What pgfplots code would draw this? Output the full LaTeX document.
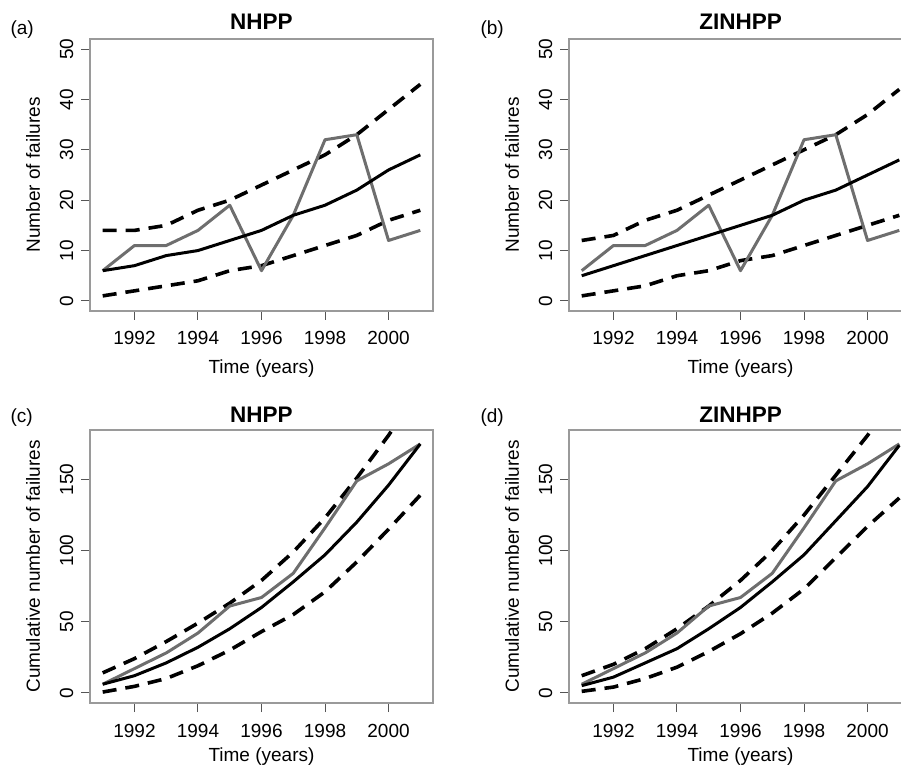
\documentclass[border=0pt]{standalone}
\usepackage{fontspec}
\setmainfont{Liberation Sans}
\usepackage{pgfplots}
\pgfplotsset{compat=1.18}

\definecolor{obsgray}{HTML}{6E6E6E}
\definecolor{boxgray}{HTML}{9A9A9A}
\definecolor{tickgray}{HTML}{555555}

\pgfplotsset{
  rplot/.style={
    scale only axis,
    width=343pt,
    xmin=1990.6, xmax=2001.4,
    axis line style={boxgray, line width=1.1pt},
    tick pos=left,
    tick align=outside,
    major tick length=9pt,
    every tick/.style={tickgray, line width=1pt},
    xtick={1992,1994,1996,1998,2000},
    xticklabels={1992,1994,1996,1998,2000},
    tick label style={font=\fontsize{19}{20}\selectfont},
    xticklabel style={anchor=base, yshift=-25pt},
    yticklabel style={rotate=90, anchor=base, yshift=8pt},
    label style={font=\fontsize{19}{20}\selectfont},
    title style={font=\bfseries\fontsize{22.5}{24}\selectfont, at={(0.5,1)}, anchor=base, yshift=3pt},
    xlabel={Time (years)},
  },
  fit/.style={black, line width=3pt, line join=round},
  band/.style={black, line width=3.6pt, dash pattern=on 14pt off 9pt},
  obs/.style={obsgray, line width=3pt, line join=round},
}

\begin{document}
\begin{tikzpicture}
\useasboundingbox (0pt,0pt) rectangle (901pt,768pt);

% (a)
\begin{axis}[rplot, at={(90pt,457pt)}, anchor=south west, height=272pt,
  ymin=-2, ymax=52, ytick={0,10,20,30,40,50}, yticklabels={0,10,20,30,40,50},
  title={NHPP}, ylabel={Number of failures},
  xlabel style={at={(axis description cs:0.5,-0.228)}, anchor=base},
  ylabel style={at={(axis description cs:-0.146,0.5)}, anchor=base}]
\addplot[band] coordinates {(1991,14)(1992,14)(1993,15)(1994,18)(1995,20)(1996,23)(1997,26)(1998,29)(1999,33)(2000,38)(2001,43)};
\addplot[band] coordinates {(1991,1)(1992,2)(1993,3)(1994,4)(1995,6)(1996,7)(1997,9)(1998,11)(1999,13)(2000,16)(2001,18)};
\addplot[obs] coordinates {(1991,6)(1992,11)(1993,11)(1994,14)(1995,19)(1996,6)(1997,17)(1998,32)(1999,33)(2000,12)(2001,14)};
\addplot[fit] coordinates {(1991,6)(1992,7)(1993,9)(1994,10)(1995,12)(1996,14)(1997,17)(1998,19)(1999,22)(2000,26)(2001,29)};
\end{axis}

% (b)
\begin{axis}[rplot, at={(569pt,457pt)}, anchor=south west, height=272pt,
  ymin=-2, ymax=52, ytick={0,10,20,30,40,50}, yticklabels={0,10,20,30,40,50},
  title={ZINHPP}, ylabel={Number of failures},
  xlabel style={at={(axis description cs:0.5,-0.228)}, anchor=base},
  ylabel style={at={(axis description cs:-0.146,0.5)}, anchor=base}]
\addplot[band] coordinates {(1991,12)(1992,13)(1993,16)(1994,18)(1995,21)(1996,24)(1997,27)(1998,30)(1999,33)(2000,37)(2001,42)};
\addplot[band] coordinates {(1991,1)(1992,2)(1993,3)(1994,5)(1995,6)(1996,8)(1997,9)(1998,11)(1999,13)(2000,15)(2001,17)};
\addplot[obs] coordinates {(1991,6)(1992,11)(1993,11)(1994,14)(1995,19)(1996,6)(1997,17)(1998,32)(1999,33)(2000,12)(2001,14)};
\addplot[fit] coordinates {(1991,5)(1992,7)(1993,9)(1994,11)(1995,13)(1996,15)(1997,17)(1998,20)(1999,22)(2000,25)(2001,28)};
\end{axis}

% (c)
\begin{axis}[rplot, at={(90pt,65pt)}, anchor=south west, height=273pt,
  ymin=-7.2, ymax=184.8, ytick={0,50,100,150}, yticklabels={0,50,100,150},
  title={NHPP}, ylabel={Cumulative number of failures},
  title style={yshift=-2pt},
  xlabel style={at={(axis description cs:0.5,-0.216)}, anchor=base},
  ylabel style={at={(axis description cs:-0.146,0.5)}, anchor=base}]
\addplot[band] coordinates {(1991,14)(1992,24)(1993,36)(1994,49)(1995,63)(1996,79)(1997,99)(1998,123)(1999,151)(2000,181)(2001,215)};
\addplot[band] coordinates {(1991,0.5)(1992,4.5)(1993,10)(1994,19)(1995,30)(1996,43)(1997,55)(1998,71)(1999,92)(2000,115)(2001,139)};
\addplot[obs] coordinates {(1991,6)(1992,17)(1993,28)(1994,42)(1995,61)(1996,67)(1997,84)(1998,116)(1999,149)(2000,161)(2001,175)};
\addplot[fit] coordinates {(1991,6)(1992,12)(1993,21)(1994,32)(1995,45)(1996,60)(1997,78)(1998,97)(1999,120)(2000,146)(2001,175)};
\end{axis}

% (d)
\begin{axis}[rplot, at={(569pt,65pt)}, anchor=south west, height=273pt,
  ymin=-7.2, ymax=184.8, ytick={0,50,100,150}, yticklabels={0,50,100,150},
  title={ZINHPP}, ylabel={Cumulative number of failures},
  title style={yshift=-2pt},
  xlabel style={at={(axis description cs:0.5,-0.216)}, anchor=base},
  ylabel style={at={(axis description cs:-0.146,0.5)}, anchor=base}]
\addplot[band] coordinates {(1991,12)(1992,20)(1993,31)(1994,45)(1995,61)(1996,79)(1997,100)(1998,125)(1999,153)(2000,181)(2001,213)};
\addplot[band] coordinates {(1991,1)(1992,4)(1993,10)(1994,18)(1995,29)(1996,41.5)(1997,56)(1998,73)(1999,95)(2000,117)(2001,137)};
\addplot[obs] coordinates {(1991,6)(1992,17)(1993,28)(1994,42)(1995,61)(1996,67)(1997,84)(1998,116)(1999,149)(2000,161)(2001,175)};
\addplot[fit] coordinates {(1991,5)(1992,11)(1993,21)(1994,31)(1995,45)(1996,60)(1997,78)(1998,97)(1999,121)(2000,145)(2001,174)};
\end{axis}

\node[anchor=base west, font=\fontsize{19}{20}\selectfont] at (7pt,733pt) {(a)};
\node[anchor=base west, font=\fontsize{19}{20}\selectfont] at (477pt,733pt) {(b)};
\node[anchor=base west, font=\fontsize{19}{20}\selectfont] at (7pt,345pt) {(c)};
\node[anchor=base west, font=\fontsize{19}{20}\selectfont] at (477pt,345pt) {(d)};
\end{tikzpicture}
\end{document}
